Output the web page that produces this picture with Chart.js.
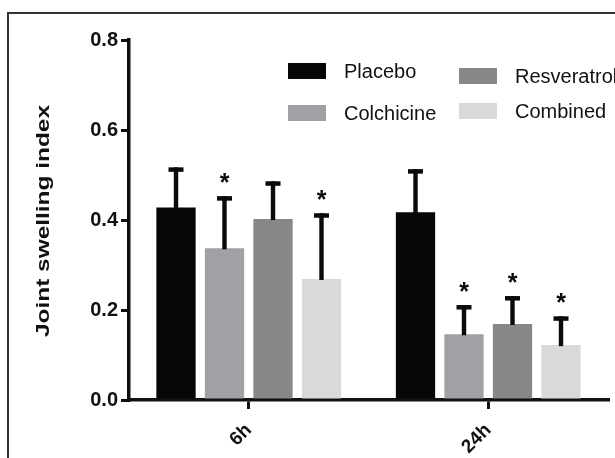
<!DOCTYPE html>
<html>
<head>
<meta charset="utf-8">
<script src="https://cdn.jsdelivr.net/npm/chart.js@4/dist/chart.umd.min.js"></script>
<style>
  html, body { margin: 0; padding: 0; background: #fff; overflow: hidden; }
  #wrap { position: relative; width: 615px; height: 458px; }
  #frame { position: absolute; left: 7px; top: 12px; width: 700px; height: 600px;
           border-top: 2.5px solid #333; border-left: 2.5px solid #333; }
  #chart { position: absolute; left: 0; top: 0; }
</style>
</head>
<body>
<div id="wrap">
  <div id="frame"></div>
  <canvas id="chart" width="615" height="458"></canvas>
</div>
<script>
const categories = ['6h', '24h'];
const yTitle = 'Joint swelling index';

const placebo = [0.428, 0.417];
const placeboErr = [0.089, 0.096];
const placeboSig = [false, false];

const colchicine = [0.337, 0.146];
const colchicineErr = [0.116, 0.065];
const colchicineSig = [true, true];

const resveratrol = [0.402, 0.169];
const resveratrolErr = [0.084, 0.062];
const resveratrolSig = [false, true];

const combined = [0.269, 0.122];
const combinedErr = [0.146, 0.064];
const combinedSig = [true, true];

const yTicks = [0.0, 0.2, 0.4, 0.6, 0.8];

const FONT = "'Liberation Sans', Arial, sans-serif";

// error bars + significance stars, drawn on top of the bars
const errorBars = {
  id: 'errorBars',
  afterDatasetsDraw(chart) {
    const ctx = chart.ctx;
    const y = chart.scales.y;
    chart.data.datasets.forEach((ds, i) => {
      const meta = chart.getDatasetMeta(i);
      meta.data.forEach((bar, j) => {
        const top = y.getPixelForValue(ds.data[j] + ds.err[j]);
        ctx.save();
        ctx.fillStyle = '#0a0a0a';
        ctx.fillRect(bar.x - 2.2, top, 4.4, bar.y - top + 1);
        ctx.fillRect(bar.x - 7.5, top, 15, 4.5);
        if (ds.sig[j]) {
          ctx.font = 'bold 25px ' + FONT;
          ctx.textAlign = 'center';
          ctx.textBaseline = 'alphabetic';
          ctx.fillText('*', bar.x, top - 5);
        }
        ctx.restore();
      });
    });
  }
};

// two-column legend and stretched y title, like the original figure
const decorations = {
  id: 'decorations',
  afterDraw(chart, args, opts) {
    const ctx = chart.ctx;
    ctx.save();
    ctx.textBaseline = 'middle';
    ctx.textAlign = 'left';
    ctx.font = '20px ' + FONT;
    chart.data.datasets.forEach((ds, i) => {
      const [bx, by] = opts.slots[i];
      ctx.fillStyle = ds.backgroundColor;
      ctx.fillRect(bx, by, 38, 16);
      ctx.fillStyle = '#111';
      ctx.fillText(ds.label, bx + 56, by + 9);
    });

    ctx.font = 'bold 18px ' + FONT;
    const w = ctx.measureText(yTitle).width;
    ctx.translate(44, 221);
    ctx.rotate(-Math.PI / 2);
    ctx.scale(232 / w, 1);
    ctx.textAlign = 'center';
    ctx.fillStyle = '#111';
    ctx.fillText(yTitle, 0, 0);
    ctx.restore();
  }
};

new Chart(document.getElementById('chart'), {
  type: 'bar',
  data: {
    labels: categories,
    datasets: [
      { label: 'Placebo', data: placebo, err: placeboErr, sig: placeboSig, backgroundColor: '#060606' },
      { label: 'Colchicine', data: colchicine, err: colchicineErr, sig: colchicineSig, backgroundColor: '#a1a1a5' },
      { label: 'Resveratrol', data: resveratrol, err: resveratrolErr, sig: resveratrolSig, backgroundColor: '#878787' },
      { label: 'Combined', data: combined, err: combinedErr, sig: combinedSig, backgroundColor: '#d9d9d9' }
    ]
  },
  options: {
    responsive: false,
    animation: false,
    layout: { padding: { top: 40, right: 7, left: 0, bottom: 0 } },
    categoryPercentage: 0.81,
    barPercentage: 0.81,
    plugins: {
      legend: { display: false },
      tooltip: { enabled: false },
      decorations: { slots: [[288, 63], [288, 105], [459, 68], [459, 103]] }
    },
    scales: {
      x: {
        offset: true,
        grid: { display: true, drawOnChartArea: false, offset: false, tickLength: 9, color: '#111', lineWidth: 3 },
        border: { display: true, color: '#111', width: 3.5 },
        ticks: { color: '#111', font: { family: FONT, size: 19, weight: 'bold' }, minRotation: 45, maxRotation: 45, padding: 10 },
        afterFit: (s) => { s.height = 58; }
      },
      y: {
        min: 0,
        max: 0.8,
        afterBuildTicks: (s) => { s.ticks = yTicks.map(v => ({ value: v })); },
        grid: { display: true, drawOnChartArea: false, tickLength: 8, color: '#111', lineWidth: 3 },
        border: { display: true, color: '#111', width: 3.5 },
        ticks: { color: '#111', font: { family: FONT, size: 20, weight: 'bold' }, padding: 3,
                 callback: (v) => Number(v).toFixed(1) },
        afterFit: (s) => { s.width = 129; }
      }
    }
  },
  plugins: [errorBars, decorations]
});
</script>
</body>
</html>
